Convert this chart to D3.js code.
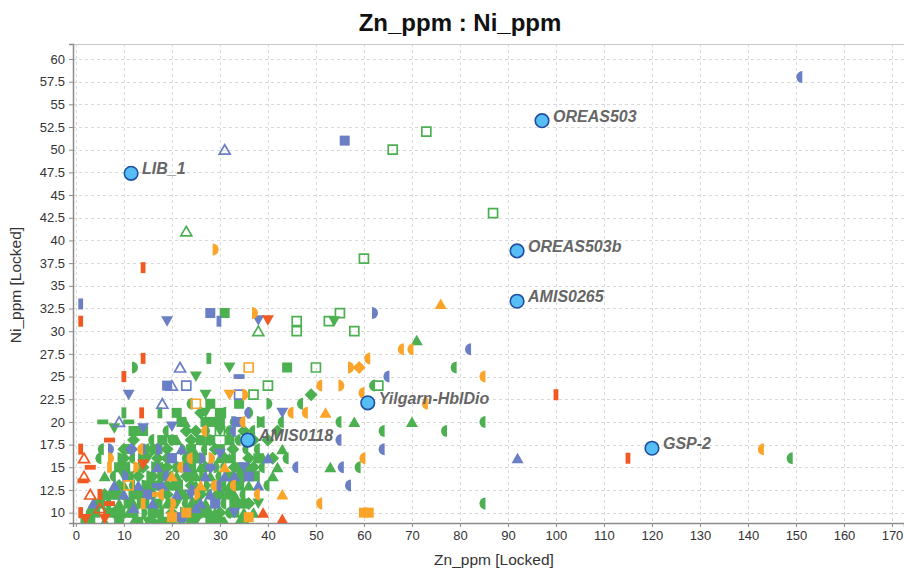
<!DOCTYPE html>
<html><head><meta charset="utf-8">
<script src="https://cdn.jsdelivr.net/npm/d3@7"></script>
<style>body{margin:0;background:#fff}svg{display:block}</style>
</head><body>
<svg id="c" width="904" height="570"></svg>
<script>
// ---------- data ----------
const xTicks = d3.range(0, 171, 10);
const yTicks = d3.range(10, 60.01, 2.5);
const title = "Zn_ppm : Ni_ppm";
const xLabel = "Zn_ppm [Locked]";
const yLabel = "Ni_ppm [Locked]";

const refNames = ["LIB_1","OREAS503","OREAS503b","AMIS0265","Yilgarn-HblDio","AMIS0118","GSP-2"];
const refZn = [11.5, 97.1, 91.9, 91.9, 60.8, 35.8, 120];
const refNi = [47.4, 53.2, 38.85, 33.3, 22.1, 18.0, 17.1];

const greenHalfL = [[85,20],[85,11],[149,16],[79,26],[64,19],[77,19],[62,24],[39,20],[55,20],[59,15],[47,22],[5.5,17],[5,16],[20,18],[32,19],[35.6,17],
 [3,10],[10,10],[18,10],[26,10],[32,10],[7,11],[15,11],[23,11],[31,11],[10,12],[18,12],[28,12],[35,12],[12,13],[22,13],[31,13],[40,13],[8,14],[20,14],[30,14],[38,14],[11,15],[21,15],[31,15],[39,15],[12,16],[23,16],[33,16],[44,16],[15,17],[27,17],[38,17],[16,18],[34,18],[19,19],[37,19],[33,20],[43,20],[31,21],[24,22]];
const greenHalfR = [[12,26],[6,10],[14,10],[22,10],[29,11],[13,11],[21,12],[14,13],[27,13],[15,14],[26,14],[16,15],[29,15],[9,16],[28,16],[22,17],[28,18],[27,19],[38,20],[36,21],[40,22]];
const greenDiamond = [[49,23],[37,18],[10,17],[32.7,17],[24,18],[6,12],[16,12],[26,12],[9,13],[19,13],[29,13],[13,14],[23,14],[35,14],[19,15],[33,15],[17,16],[36,16],[41,16],[19,17],[29,17],[12,18],[40,18],[23,19],[42,19],[8,10],[20,10],[30,10],[16,9],
 [9,10],[25,10],[36,11],[19,12],[24,13],[16,14],[34,14],[14,15],[27,15],[37,15],[10,16],[19,16],[31,16],[16,17],[36,18],[25,19],[35,19],[26,21]];
const greenSquare = [[31,32],[44,26],[28,18],[28,20],[30,20],[9,15],[24,15],[20,16],[25,16],[24,17],[32,18],[12,19],[27,20],[21,21],[28,22],[34,22],[33,11],[11,11],[17,11],[25,11],[12,10],[24,10],[14,12],[30,12],[17,13],[34,13],[18,14],[32,14],[9,9],[18,9],[28,9],[2,9],
 [4,10],[7,10],[16,10],[27,10],[33,10],[5,11],[20,11],[35,11],[8,12],[12,12],[22,12],[32,12],[15,13],[21,13],[33,13],[11,14],[24,14],[37,14],[10,15],[22,15],[34,15],[14,16],[26,16],[38,16],[11,17],[17,17],[30,17],[18,18],[26,18],[14,19],[22,20],[30,21],[3,9],[13,9],[20,9],[24,9],[30,9],[35,9]];
const greenTriUp = [[71,29],[58,20],[70,20],[53,15],[22.7,20],[24.4,17],[36,15],[41,14],[26,15],[7,12],[10,13],[25,13],[36,13],[6,14],[28,14],[13,15],[42,15],[30,16],[43,17],[19,11],[27,11],[4,11],[9,11],[28,10],[35,10],[37,10],[6,9],[12,9],[22,9],[31,9],[34,9],[33,12],[23.5,12],
 [11,10],[17,10],[29,10],[12,11],[24,11],[9,12],[29,12],[20,13],[32,13],[21,14],[25,14],[18,15],[32,16],[21,18],[39,16]];
const greenTriDown = [[53.8,31.1],[32,26],[25,25],[27,23],[27,21],[8,19.3],[20,18],[17,15],[26,12],[15,16],[21,11],[38,11],[10,14],[30,19],[25,9],[15,9]];
const greenOpenSq = [[60,38],[66,50],[73,52],[86.9,43],[55,32],[46,31.1],[46,30],[52.7,31.1],[58,30],[50,26],[40,24],[63,24],[37,23],[30,19]];
const greenOpenTri = [[23,41],[38,30]];
const greenHBar = [[5.6,20],[11,20]];
const greenVBar = [[27.7,27],[10,21],[17.5,21]];

const blueHalfL = [[151,58],[82,28],[65,25],[64,17],[55,18],[57,13],[55.5,15],[36,21],[33,19],[46,15],[30,13],[19,14]];
const blueHalfR = [[62,32],[7,17],[17,17],[32.7,20],[26,16],[10,14],[24,12.5]];
const blueTriUp = [[92,16],[22,17],[13,13],[10,12],[3.6,11],[12,10.5],[25,10.5],[31,14],[21,12],[27,14],[40,16],[17,15],[8,13],[18,13],[23,15],[28,12],[33,14],[38,13],[26,11],[16,11]];
const blueTriDown = [[19,31.1],[38,31.2],[11,23],[14,19.3],[43,21],[30,16.5],[35,15],[24,12],[33,10],[20,19.5]];
const blueSquare = [[28,32],[19,24],[56,51],[36,14],[15,12],[22,9.5],[29,11],[34,20],[20,16]];
const blueOpenTri = [[31,50],[21.7,26],[20,24],[18,22],[9,20]];
const blueOpenSq = [[23,24],[34,23]];
const blueVBar = [[1,33],[29.8,31.1],[14,17]];
const blueHBar = [[34,25],[17,13]];
const blueDiamond = [[11.6,17],[28,15]];

const orangeHalfL = [[143,17],[68,28],[70,28],[61,27],[85,25],[51,24],[73,22],[59.8,23.2],[45,21],[48,21],[60,16],[51,11],[35,20],[27,19],[24,16],[13.7,17],[29,13],[18,12],[22,15],[33,13],[38,12]];
const orangeHalfR = [[28.8,39],[37,32],[57,26],[55,24],[35,23],[7,16],[12.3,15],[20,11],[25,12],[28,16]];
const orangeTriUp = [[76,33],[52,21],[43,12],[31,15],[20,14],[26,13]];
const orangeSquare = [[60,10],[61,10],[36,9.5],[20,9.5],[23,10]];
const orangeOpenSq = [[36,26],[25,22],[11,13]];
const orangeTriDown = [[32,23]];
const orangeHBar = [[17,12]];
const orangeVBar = [[7,15],[20,10],[14,11]];
const orangeDiamond = [[59,26]];

const redVBar = [[14,37],[1,31.1],[14,27],[10,25],[1,17],[5,12],[13.7,21],[100,23],[115,16],[1,10]];
const redHBar = [[7,11],[3,15],[7,18],[1.5,13.5]];
const redOpenTri = [[1.7,16],[1.7,14],[3,12],[5,10.5]];
const redTriDown = [[40,31.2],[14,15.3],[6,9.3],[2,9.3]];
const redTriUp = [[39,10],[43,9.3]];

const colors = {green:"#4caf50", blue:"#6a7fc4", orange:"#fba42a", red:"#f05a22"};

const series = [
 ["green","hl",greenHalfL],["green","hr",greenHalfR],["green","dia",greenDiamond],["green","sq",greenSquare],
 ["green","tri",greenTriUp],["green","tdown",greenTriDown],["green","osq",greenOpenSq],["green","otri",greenOpenTri],
 ["green","hbar",greenHBar],["green","vbar",greenVBar],
 ["blue","hl",blueHalfL],["blue","hr",blueHalfR],["blue","tri",blueTriUp],["blue","tdown",blueTriDown],["blue","sq",blueSquare],
 ["blue","otri",blueOpenTri],["blue","osq",blueOpenSq],["blue","vbar",blueVBar],["blue","hbar",blueHBar],["blue","dia",blueDiamond],
 ["orange","hl",orangeHalfL],["orange","hr",orangeHalfR],["orange","tri",orangeTriUp],["orange","sq",orangeSquare],
 ["orange","osq",orangeOpenSq],["orange","tdown",orangeTriDown],["orange","hbar",orangeHBar],["orange","vbar",orangeVBar],["orange","dia",orangeDiamond],
 ["red","vbar",redVBar],["red","hbar",redHBar],["red","otri",redOpenTri],["red","tdown",redTriDown],["red","tri",redTriUp]
];

// ---------- chart ----------
const svg = d3.select("#c");
const x = d3.scaleLinear().domain([-0.6, 172.5]).range([73, 904]);
const y = d3.scaleLinear().domain([8.86, 61.65]).range([523, 44]);
const font = "'Liberation Sans', Arial, sans-serif";

svg.append("defs").append("clipPath").attr("id","clip")
  .append("rect").attr("x",73).attr("y",44).attr("width",831).attr("height",479);

// grid
const grid = svg.append("g").attr("stroke","#d9d9d9").attr("stroke-dasharray","3,3").attr("stroke-width",1);
grid.selectAll("line.v").data(xTicks).join("line").attr("x1",d=>x(d)+0.5).attr("x2",d=>x(d)+0.5).attr("y1",44).attr("y2",523);
grid.selectAll("line.h").data(yTicks).join("line").attr("y1",d=>Math.round(y(d))+0.5).attr("y2",d=>Math.round(y(d))+0.5).attr("x1",73).attr("x2",904);

// top border
svg.append("line").attr("x1",73).attr("x2",904).attr("y1",44.5).attr("y2",44.5).attr("stroke","#c8c8c8");

// axes
const xAxis = svg.append("g").attr("transform","translate(0,523)")
  .call(d3.axisBottom(x).tickValues(xTicks).tickSize(4).tickPadding(4).tickFormat(d3.format("d")));
const yAxis = svg.append("g").attr("transform","translate(73,0)")
  .call(d3.axisLeft(y).tickValues(yTicks).tickSize(4).tickPadding(4).tickFormat(d=>String(d)));
[xAxis,yAxis].forEach(a=>{
  a.select(".domain").attr("stroke","#8c8c8c").attr("stroke-width",1.5);
  a.selectAll(".tick line").attr("stroke","#8c8c8c");
  a.selectAll("text").attr("fill","#333").style("font-family",font).style("font-size","13px");
});

// markers
const shapes = {
  sq:"M-5,-5h10v10h-10Z",
  osq:"M-4.5,-4.5h9v9h-9Z",
  tri:"M0,-5.5L6,5L-6,5Z",
  otri:"M0,-5L5.5,4.5L-5.5,4.5Z",
  tdown:"M0,5.5L6,-5L-6,-5Z",
  dia:"M0,-6.5L6.5,0L0,6.5L-6.5,0Z",
  hl:"M1.5,-6A6,6 0 0 0 1.5,6Z",
  hr:"M-1.5,-6A6,6 0 0 1 -1.5,6Z",
  vbar:"M-2.4,-5.5h4.8v11h-4.8Z",
  hbar:"M-5.5,-2.4h11v4.8h-11Z"
};
const open = {osq:true, otri:true};
const mg = svg.append("g").attr("clip-path","url(#clip)");
series.forEach(([c,s,pts])=>{
  mg.append("g").selectAll("path").data(pts).join("path")
    .attr("d",shapes[s])
    .attr("transform",d=>`translate(${x(d[0])},${y(d[1])})`)
    .attr("fill",open[s]?"none":colors[c])
    .attr("stroke",open[s]?colors[c]:"none")
    .attr("stroke-width",open[s]?1.7:0);
});

// reference points
const refs = refNames.map((n,i)=>({n, zn:refZn[i], ni:refNi[i]}));
const rg = svg.append("g");
rg.selectAll("circle").data(refs).join("circle")
  .attr("cx",d=>x(d.zn)).attr("cy",d=>y(d.ni)).attr("r",6.8)
  .attr("fill","#56bdf5").attr("stroke","#1f4f9e").attr("stroke-width",1.6);
rg.selectAll("text").data(refs).join("text")
  .attr("x",d=>x(d.zn)+11).attr("y",d=>y(d.ni)+1)
  .text(d=>d.n)
  .attr("fill","#666").style("font-family",font).style("font-size","16px")
  .style("font-weight","bold").style("font-style","italic");

// titles
svg.append("text").attr("x",460).attr("y",31).attr("text-anchor","middle")
  .style("font-family",font).style("font-size","24px").style("font-weight","bold").attr("fill","#111").text(title);
svg.append("text").attr("x",494).attr("y",565).attr("text-anchor","middle")
  .style("font-family",font).style("font-size","15.5px").attr("fill","#333").text(xLabel);
svg.append("text").attr("transform","translate(21,285) rotate(-90)").attr("text-anchor","middle")
  .style("font-family",font).style("font-size","15.5px").attr("fill","#333").text(yLabel);
</script>
</body></html>
